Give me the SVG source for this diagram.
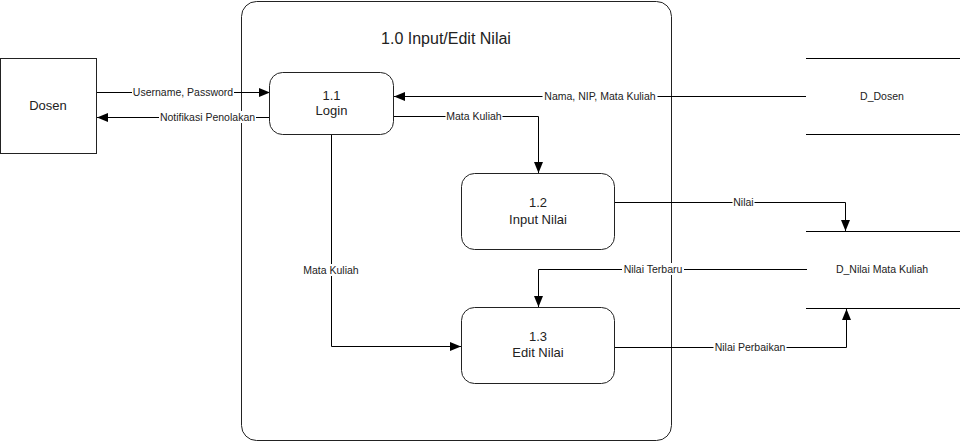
<svg xmlns="http://www.w3.org/2000/svg" width="960" height="442" viewBox="0 0 960 442">
<defs>
<marker id="arr" markerUnits="userSpaceOnUse" markerWidth="12" markerHeight="10" refX="11" refY="5" orient="auto">
<path d="M0,0.5 L11,5 L0,9.5 Z" fill="#000"/>
</marker>
<style>
.shape{fill:#fff;stroke:#222;stroke-width:1}
.line{fill:none;stroke:#000;stroke-width:1}
.node{font-family:"Liberation Sans",Arial,sans-serif;font-size:13px;fill:#222;text-anchor:middle}
.title{font-family:"Liberation Sans",Arial,sans-serif;font-size:16px;fill:#222;text-anchor:middle}
.lbl{font-family:"Liberation Sans",Arial,sans-serif;font-size:10.5px;fill:#222;text-anchor:middle}
.lblbg{fill:#fff}
.store{fill:none;stroke:#000;stroke-width:1}
</style>
</defs>
<rect width="960" height="442" fill="#fff"/>

<g id="container">
<rect class="shape" x="241.5" y="1.5" width="430" height="439" rx="15"/>
<text class="title" x="446" y="44">1.0 Input/Edit Nilai</text>
</g>

<g id="dosen">
<rect class="shape" x="0.5" y="58.5" width="96" height="95"/>
<text class="node" x="48" y="110">Dosen</text>
</g>

<g id="d_dosen">
<line class="store" x1="806" y1="58.5" x2="960" y2="58.5"/>
<line class="store" x1="806" y1="134.5" x2="960" y2="134.5"/>
<text class="lbl" x="882" y="100">D_Dosen</text>
</g>

<g id="d_nilai">
<line class="store" x1="806" y1="231.5" x2="960" y2="231.5"/>
<line class="store" x1="806" y1="308.5" x2="960" y2="308.5"/>
<text class="lbl" x="882" y="273">D_Nilai Mata Kuliah</text>
</g>

<g id="connectors">
<path class="line" d="M97,92.5 H270" marker-end="url(#arr)"/>
<path class="line" d="M270,117.5 H97" marker-end="url(#arr)"/>
<path class="line" d="M806,96.5 H394" marker-end="url(#arr)"/>
<path class="line" d="M394,116.5 H538.5 V173" marker-end="url(#arr)"/>
<path class="line" d="M615,202.5 H845.5 V231" marker-end="url(#arr)"/>
<path class="line" d="M807,269.5 H538.5 V307" marker-end="url(#arr)"/>
<path class="line" d="M615,347.5 H846.5 V309" marker-end="url(#arr)"/>
<path class="line" d="M331.5,134 V346.5 H461" marker-end="url(#arr)"/>

<rect class="lblbg" x="132" y="86" width="102" height="12"/>
<text class="lbl" x="183" y="96">Username, Password</text>
<rect class="lblbg" x="159" y="111" width="97" height="12"/>
<text class="lbl" x="207.5" y="121">Notifikasi Penolakan</text>
<rect class="lblbg" x="542.5" y="90" width="115" height="12"/>
<text class="lbl" x="600" y="100">Nama, NIP, Mata Kuliah</text>
<rect class="lblbg" x="445.5" y="110" width="57" height="12"/>
<text class="lbl" x="474" y="120">Mata Kuliah</text>
<rect class="lblbg" x="732.5" y="196" width="22" height="12"/>
<text class="lbl" x="743.5" y="206">Nilai</text>
<rect class="lblbg" x="622" y="263" width="62" height="12"/>
<text class="lbl" x="653" y="273">Nilai Terbaru</text>
<rect class="lblbg" x="713.5" y="341" width="73" height="12"/>
<text class="lbl" x="750" y="351">Nilai Perbaikan</text>
<rect class="lblbg" x="302.5" y="264" width="57" height="12"/>
<text class="lbl" x="331" y="274">Mata Kuliah</text>
</g>

<g id="p1_1">
<rect class="shape" x="269.5" y="72.5" width="124" height="62" rx="13"/>
<text class="node" x="331.5" y="100">1.1</text>
<text class="node" x="331.5" y="115">Login</text>
</g>

<g id="p1_2">
<rect class="shape" x="461.5" y="173.5" width="153" height="76" rx="13"/>
<text class="node" x="538" y="207">1.2</text>
<text class="node" x="538" y="224">Input Nilai</text>
</g>

<g id="p1_3">
<rect class="shape" x="461.5" y="307.5" width="153" height="76" rx="13"/>
<text class="node" x="538" y="341">1.3</text>
<text class="node" x="538" y="357">Edit Nilai</text>
</g>
</svg>
